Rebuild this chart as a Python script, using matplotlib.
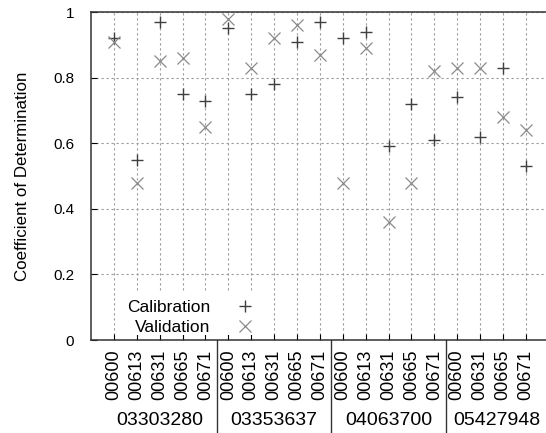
import numpy as np
import matplotlib
matplotlib.use('Agg')
import matplotlib.pyplot as plt
import matplotlib.transforms as mtransforms
from matplotlib.patches import Rectangle

plt.rcParams['font.family'] = ['Liberation Sans', 'DejaVu Sans']

# station groups and the gauges within each group
groups = ['03303280', '03353637', '04063700', '05427948']
gauges = [
    ['00600', '00613', '00631', '00665', '00671'],
    ['00600', '00613', '00631', '00665', '00671'],
    ['00600', '00613', '00631', '00665', '00671'],
    ['00600', '00631', '00665', '00671'],
]

calibration = [0.92, 0.55, 0.97, 0.75, 0.73,
               0.95, 0.75, 0.78, 0.91, 0.97,
               0.92, 0.94, 0.59, 0.72, 0.61,
               0.74, 0.62, 0.83, 0.53]
validation = [0.91, 0.48, 0.85, 0.86, 0.65,
              0.98, 0.83, 0.92, 0.96, 0.87,
              0.48, 0.89, 0.36, 0.48, 0.82,
              0.83, 0.83, 0.68, 0.64]

tick_labels = [g for grp in gauges for g in grp]
x = np.arange(1, len(tick_labels) + 1)

fig = plt.figure(figsize=(5.46, 4.33), dpi=100)
ax = fig.add_axes([91 / 546, 93 / 433, 457.8 / 546, 328 / 433])

ax.grid(True, linestyle=(0, (2, 2.5)), color='#9a9a9a', linewidth=0.8)
ax.set_axisbelow(True)

ax.plot(x, calibration, linestyle='none', marker='+', markersize=8,
        markeredgewidth=1.0, color='#404040', label='Calibration')
ax.plot(x, validation, linestyle='none', marker='x', markersize=8.5,
        markeredgewidth=0.9, color='#8a8a8a', label='Validation')

ax.set_xlim(0, 20)
ax.set_ylim(0, 1)
ax.set_yticks([0, 0.2, 0.4, 0.6, 0.8, 1])
ax.set_yticklabels(['0', '0.2', '0.4', '0.6', '0.8', '1'], fontsize=11)
ax.set_xticks(x)
ax.set_xticklabels(tick_labels, rotation=90, fontsize=13)
ax.tick_params(axis='both', direction='in', length=4, width=0.8)
ax.tick_params(axis='x', pad=7)
ax.tick_params(axis='y', pad=12)
ax.set_ylabel('Coefficient of Determination', fontsize=12.2, labelpad=17)

for s in ['top', 'bottom', 'left', 'right']:
    ax.spines[s].set_linewidth(1.1)
    ax.spines[s].set_color('#333333')

# group separators and group names below the axis
trans = mtransforms.blended_transform_factory(ax.transData, ax.transAxes)
sizes = [len(g) for g in gauges]
edges = np.concatenate([[0.5], 0.5 + np.cumsum(sizes)])
edges[-1] = 20
for e in edges[1:-1]:
    ax.plot([e, e], [0, -0.3], transform=trans, color='#333333',
            linewidth=1.0, clip_on=False)
for i, name in enumerate(groups):
    ax.text((edges[i] + edges[i + 1]) / 2, -0.245, name, transform=trans,
            ha='center', va='center', fontsize=14)

# white area behind the key hides the grid but leaves the bottom ticks
ax.add_patch(Rectangle((0.06, 0.014), 0.32, 0.13, transform=ax.transAxes,
                       facecolor='white', edgecolor='none', zorder=0.6))
leg = ax.legend(loc='lower left', bbox_to_anchor=(0.057, -0.015), markerfirst=False,
                frameon=False, fontsize=12.5, handlelength=1.5, handletextpad=1.3,
                labelspacing=0.3, borderpad=0.05)
for t in leg.get_texts():
    t.set_ha('right')

fig.savefig('out.png', dpi=100)
